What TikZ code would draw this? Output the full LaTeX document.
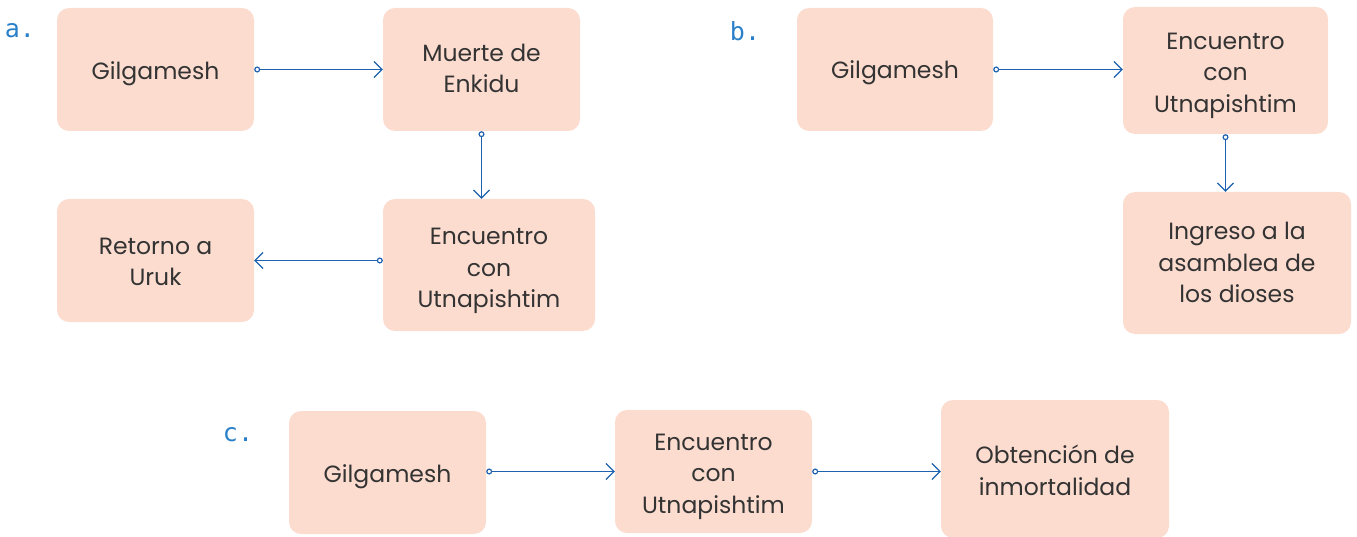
\documentclass[tikz,border=0pt]{standalone}
\usepackage{fontspec}
\setmainfont{Poppins}
\newfontfamily\labfont{DejaVu Sans Mono}
\usetikzlibrary{arrows.meta}
\definecolor{boxfill}{HTML}{FCDCCF}
\definecolor{txt}{HTML}{333333}
\definecolor{lnk}{HTML}{1E62B0}
\definecolor{lab}{HTML}{2A80C8}
\newcommand\bt[2][0pt]{\raisebox{-#1}[\height][\depth]{\begin{tabular}{@{}c@{}}#2\end{tabular}}}
\tikzset{
  box/.style={fill=boxfill, rounded corners=12pt, text=txt,
    font=\fontsize{23.5}{31.5}\selectfont, inner sep=0pt},
  link/.style={draw=lnk, line width=1.2pt,
    {Circle[open,length=6pt,width=6pt,fill=white]}-{Straight Barb[length=8pt,width=16pt,line width=1.2pt]}},
  lbl/.style={text=lab, font=\labfont\fontsize{25}{28}\selectfont, inner sep=0pt}
}
\begin{document}
\begin{tikzpicture}[x=1pt,y=-1pt]
\useasboundingbox (0,0) rectangle (1357,537);
% a
\node[lbl] (la) at (20,31) {a.};
\node[box, minimum width=197pt, minimum height=123pt] (a1) at (155.5,69.5) {\bt[4pt]{Gilgamesh}};
\node[box, minimum width=197pt, minimum height=123pt] (a2) at (481.5,69.5) {\bt[1pt]{Muerte de\\Enkidu}};
\node[box, minimum width=212pt, minimum height=132pt] (a3) at (489,265) {\bt[5pt]{Encuentro\\con\\Utnapishtim}};
\node[box, minimum width=197pt, minimum height=123pt] (a4) at (155.5,260.5) {\bt[3pt]{Retorno a\\Uruk}};
\draw[link] (a1.east) -- (a2.west);
\draw[link] (a2.south) -- (a2.south |- a3.north);
\draw[link] (a4.east -| a3.west) -- (a4.east);
% b
\node[lbl] (lb) at (745,31) {b.};
\node[box, minimum width=196pt, minimum height=123pt] (b1) at (895,69.5) {\bt[3pt]{Gilgamesh}};
\node[box, minimum width=205pt, minimum height=127pt] (b2) at (1225.5,70.5) {\bt[4pt]{Encuentro\\con\\Utnapishtim}};
\node[box, minimum width=228pt, minimum height=142pt] (b3) at (1237,263) {\bt[2pt]{Ingreso a la\\asamblea de\\los dioses}};
\draw[link] (b1.east) -- (b1.east -| b2.west);
\draw[link] (b2.south) -- (b2.south |- b3.north);
% c
\node[lbl] (lc) at (238,435) {c.};
\node[box, minimum width=197pt, minimum height=123pt] (c1) at (387.5,472.5) {\bt[4pt]{Gilgamesh}};
\node[box, minimum width=197pt, minimum height=123pt] (c2) at (713.5,471.5) {\bt[4pt]{Encuentro\\con\\Utnapishtim}};
\node[box, minimum width=228pt, minimum height=138pt] (c3) at (1055,469) {\bt[4pt]{Obtención de\\inmortalidad}};
\draw[link] (c2.west -| c1.east) -- (c2.west);
\draw[link] (c2.east) -- (c2.east -| c3.west);
\end{tikzpicture}
\end{document}
